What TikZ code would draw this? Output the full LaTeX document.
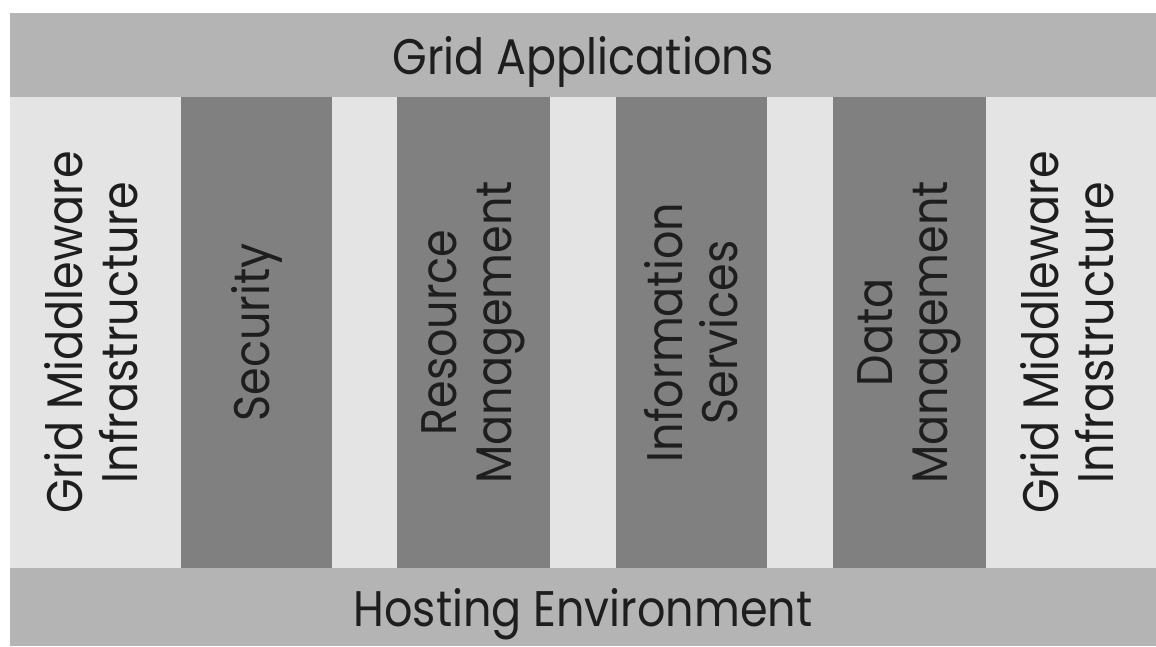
\documentclass[tikz,border=0pt]{standalone}
\usepackage{fontspec}
\setmainfont[FakeStretch=0.89]{Poppins}
\usepackage{xcolor}
\usepackage{tikz}
\usetikzlibrary{positioning}
\definecolor{bargray}{HTML}{B4B4B4}
\definecolor{litegray}{HTML}{E4E4E4}
\definecolor{darkgray}{HTML}{808080}
\definecolor{inkgray}{HTML}{1E1E1E}

\begin{document}
\begin{tikzpicture}[
      bar/.style={fill=bargray, minimum width=1146pt, inner sep=0pt, outer sep=0pt,
                  text depth=0pt, font=\fontsize{50}{55}\selectfont, text=inkgray},
      col/.style={minimum height=471pt, inner sep=0pt, outer sep=0pt},
      lite/.style={col, fill=litegray},
      dark/.style={col, fill=darkgray},
      vtext/.style={rotate=90, align=center, inner sep=0pt,
                    font=\fontsize{50}{55}\selectfont, text=inkgray}
  ]
    \node[bar, minimum height=84pt] (apps) {Grid Applications};
    \node[lite, minimum width=171pt, anchor=north west] (gm1) at (apps.south west) {};
    \node[dark, minimum width=151pt, right=0pt of gm1] (sec) {};
    \node[lite, minimum width=65pt, right=0pt of sec] (gap1) {};
    \node[dark, minimum width=153pt, right=0pt of gap1] (res) {};
    \node[lite, minimum width=66pt, right=0pt of res] (gap2) {};
    \node[dark, minimum width=151pt, right=0pt of gap2] (info) {};
    \node[lite, minimum width=66pt, right=0pt of info] (gap3) {};
    \node[dark, minimum width=153pt, right=0pt of gap3] (data) {};
    \node[lite, minimum width=170pt, right=0pt of data] (gm2) {};
    \node[bar, minimum height=78pt, anchor=north west] (host) at (gm1.south west) {Hosting Environment};
    % labels of the columns
    \node[vtext] at ([xshift=-4pt]gm1) {Grid Middleware\\Infrastructure};
    \node[vtext] at (sec) {Security};
    \node[vtext] at (res) {Resource\\Management};
    \node[vtext] at (info) {Information\\Services};
    \node[vtext] at (data) {Data\\Management};
    \node[vtext] at ([xshift=-4pt]gm2) {Grid Middleware\\Infrastructure};
    \useasboundingbox ([shift={(-10pt,13pt)}]apps.north west) rectangle (host.south east);
  \end{tikzpicture}
\end{document}
